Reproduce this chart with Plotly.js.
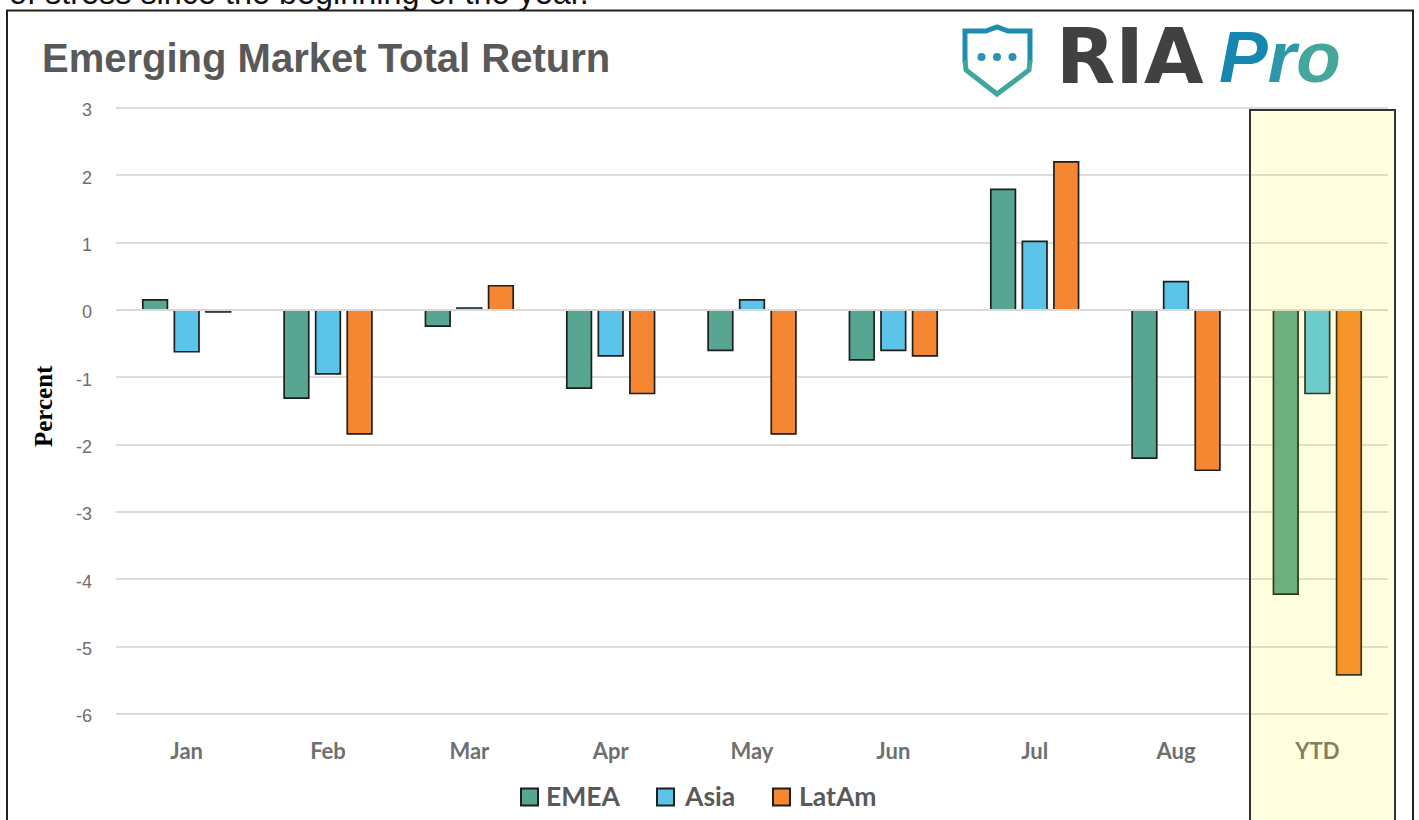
<!DOCTYPE html>
<html>
<head>
<meta charset="utf-8">
<script src="https://cdn.plot.ly/plotly-3.0.1.min.js"></script>
<style>html,body{margin:0;padding:0;background:#fff;overflow:hidden}#chart{width:1419px;height:820px}</style>
</head>
<body>
<div id="chart"></div>
<script>
const categories = ["Jan","Feb","Mar","Apr","May","Jun","Jul","Aug","YTD"];
const emea  = [0.15,-1.31,-0.24,-1.16,-0.60,-0.74,1.79,-2.20,-4.22];
const asia  = [-0.62,-0.95,0.03,-0.68,0.15,-0.60,1.02,0.42,-1.24];
const latam = [-0.03,-1.84,0.36,-1.24,-1.84,-0.68,2.20,-2.38,-5.42];
const seriesNames = ["EMEA","Asia","LatAm"];
const seriesColors = ["#58A592","#5BC4E8","#F68732"];
const seriesValues = [emea,asia,latam];
const yTicks = [3,2,1,0,-1,-2,-3,-4,-5,-6];

const W=1419,H=820;
const ML=116,MR=31,MT=108,MB=106;
const px=x=>(x-ML)/(W-ML-MR), py=y=>1-(y-MT)/(H-MT-MB);
const P=(pts,close)=>pts.map((p,i)=>(i?'L':'M')+px(p[0]).toFixed(5)+','+py(p[1]).toFixed(5)).join(' ')+(close?' Z':'');

const traces = seriesNames.map((n,i)=>({
  type:'bar',name:n,x:categories,y:seriesValues[i],
  marker:{color:seriesColors[i],line:{color:'#1e1e1e',width:1.7}},
  showlegend:false,hoverinfo:'x+y'
}));

const paperRect=(x0,y0,x1,y1,extra)=>Object.assign({type:'rect',xref:'paper',yref:'paper',x0:px(x0),x1:px(x1),y0:py(y0),y1:py(y1)},extra);
const edgeGrid=v=>({type:'line',xref:'paper',yref:'paper',x0:0,x1:1,y0:v,y1:v,line:{color:'#DCDCDC',width:2},layer:'below'});
const shapes=[
  paperRect(7,10.5,1413,840,{line:{color:'#222',width:2},fillcolor:'rgba(0,0,0,0)',layer:'below'}),
  edgeGrid(1),
  edgeGrid(0),
  {type:'line',xref:'paper',yref:'y',x0:0,x1:1,y0:0,y1:0,line:{color:'#D9D9D9',width:2},layer:'above'},
  paperRect(1250,110,1395,840,{line:{color:'#333',width:2},fillcolor:'rgba(255,255,0,0.12)',layer:'above'}),
  // logo shield, upper and lower part
  {type:'path',xref:'paper',yref:'paper',path:P([[965,62],[965,31],[986,31],[997,27],[1008,31],[1030,31],[1030,62]]),line:{color:'#1E8CB0',width:5},fillcolor:'rgba(0,0,0,0)'},
  {type:'path',xref:'paper',yref:'paper',path:P([[965,60],[966,70],[997,94],[1029,70],[1030,60]]),line:{color:'#3FA59D',width:5},fillcolor:'rgba(0,0,0,0)'},
];
[981.5,997,1012.5].forEach(c=>shapes.push({type:'circle',xref:'paper',yref:'paper',x0:px(c-4),x1:px(c+4),y0:py(57+4),y1:py(57-4),fillcolor:'#2A93AE',line:{width:0}}));
// legend swatches
const swatchX=[521,657,773];
swatchX.forEach((x,i)=>shapes.push(paperRect(x,788.5,x+17,805.5,{fillcolor:seriesColors[i],line:{color:'#1e1e1e',width:2}})));

const label=(text,x,y,font,extra)=>Object.assign({text,xref:'paper',yref:'paper',x:px(x),y:py(y),xanchor:'left',yanchor:'middle',showarrow:false,font,borderpad:0},extra);
const legFont={family:'Lato',size:26.5,color:'#595959',weight:700};
const legX=[545,683,798];
const annotations=[
  label('of stress since the beginning of the year.',8,-7,{family:'Liberation Sans',size:32.4,color:'#111'}),
  label('RIA',1055,57,{family:'DejaVu Sans',size:77,color:'#414042',weight:700}),
  label('<span style="color:#1688B0">P</span><span style="color:#2C97A8">r</span><span style="color:#45A79B">o</span>',1218,57,{family:'Liberation Sans',size:73,color:'#2C97A8',weight:700,style:'italic'}),
  label('Percent',43,406,{family:'Liberation Serif',size:25,color:'#000',weight:700},{xanchor:'center',textangle:-90}),
  ...seriesNames.map((n,i)=>label(n,legX[i],795.5,legFont))
];

const layout={
  width:W,height:H,
  margin:{l:ML,r:MR,t:MT,b:MB,pad:0},
  paper_bgcolor:'#fff',plot_bgcolor:'#fff',
  title:{text:'Emerging Market Total Return',x:42/W,xref:'container',xanchor:'left',y:1-58/H,yref:'container',yanchor:'middle',pad:{t:0,b:0,l:0,r:0},font:{family:'Liberation Sans',size:40,color:'#595959',weight:700}},
  barmode:'group',bargap:0.33,bargroupgap:0.22,
  showlegend:false,
  xaxis:{type:'category',categoryorder:'array',categoryarray:categories,tickfont:{family:'Lato',size:22,color:'#6f6f6f',weight:700},ticks:'',showgrid:false,zeroline:false,showline:false,ticklabelstandoff:22,fixedrange:true},
  yaxis:{range:[-6,3],tickvals:yTicks,ticktext:yTicks.map(String),tickfont:{family:'Liberation Sans',size:18,color:'#6f6f6f'},ticks:'',gridcolor:'#DCDCDC',gridwidth:2,zeroline:false,showline:false,ticklabelstandoff:23,ticklabelshift:2,fixedrange:true},
  shapes,annotations
};
Plotly.newPlot('chart',traces,layout,{displayModeBar:false,staticPlot:true});
</script>
</body>
</html>
